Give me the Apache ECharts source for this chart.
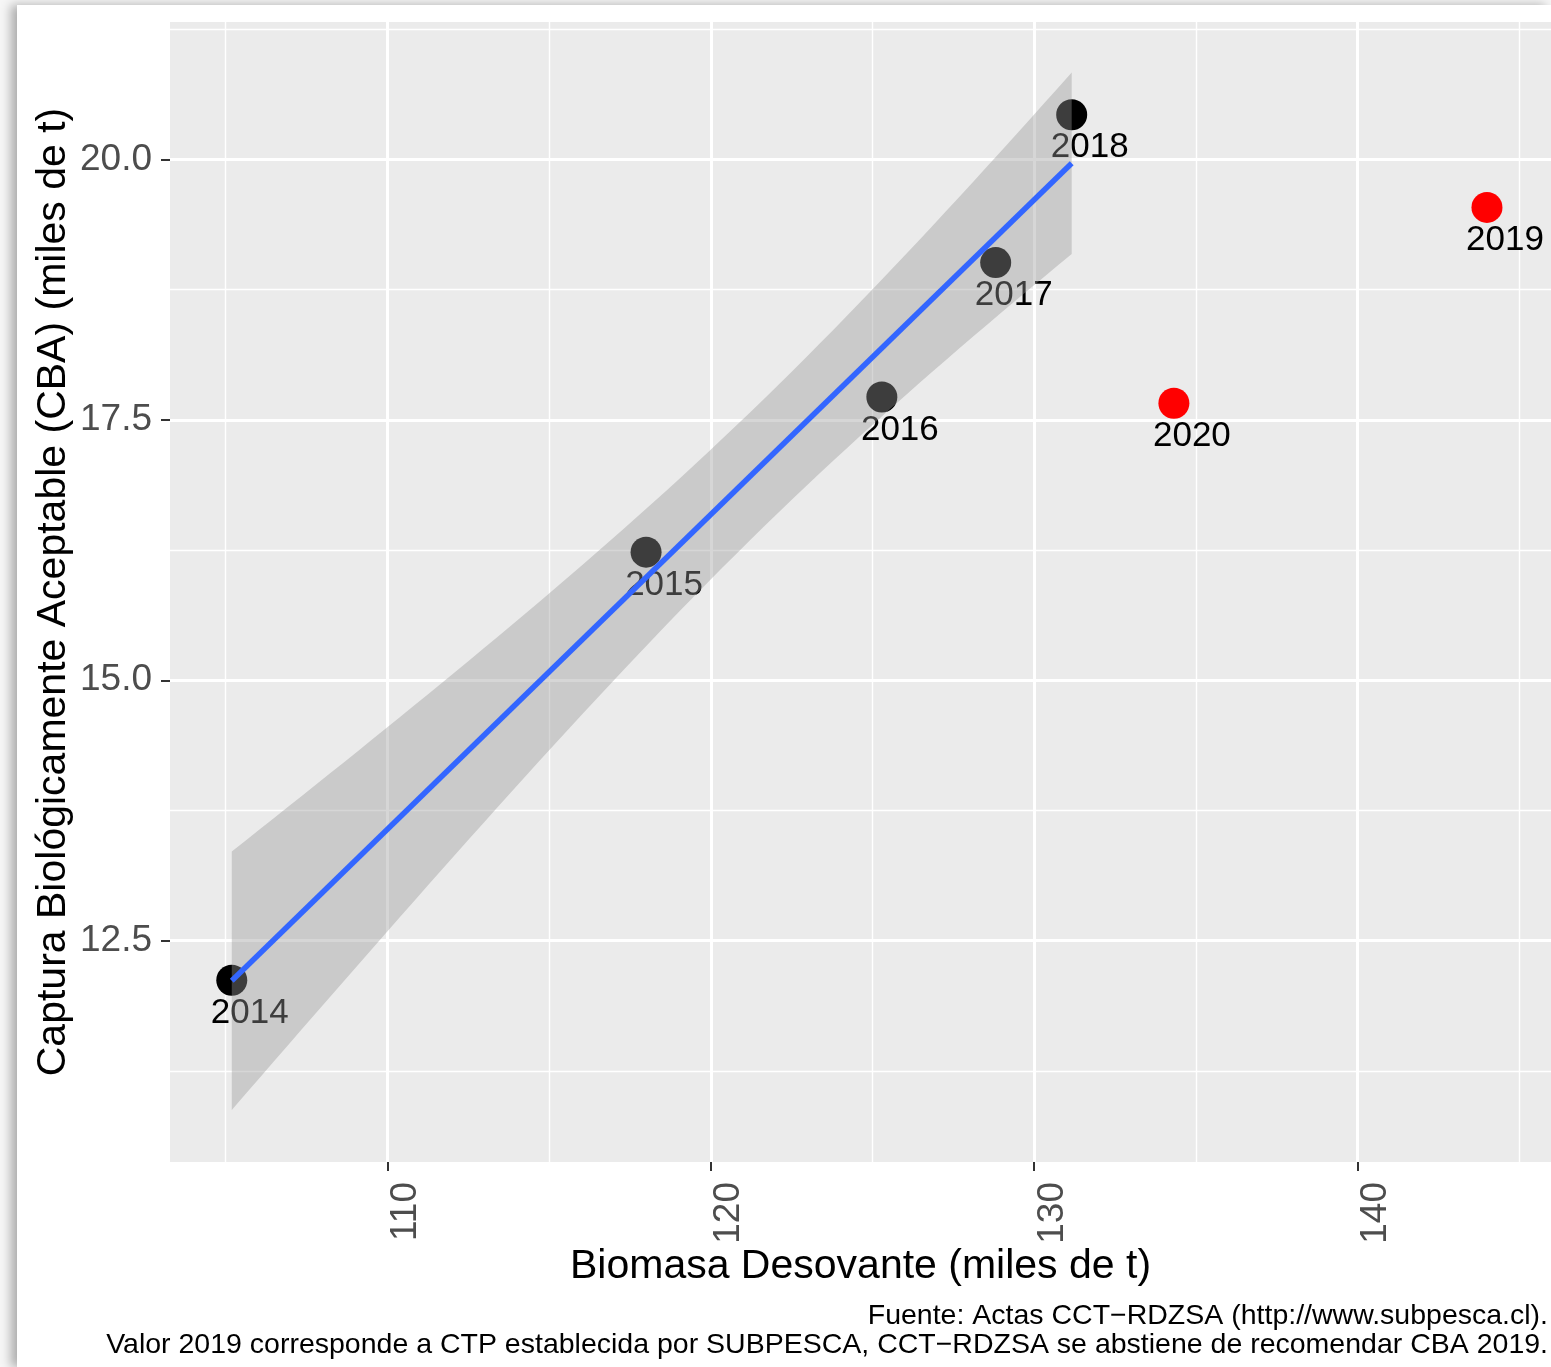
<!DOCTYPE html>
<html>
<head>
<meta charset="utf-8">
<title>CBA vs Biomasa Desovante</title>
<script src="https://cdn.jsdelivr.net/npm/echarts@6.0.0/dist/echarts.min.js"></script>
<style>
  html, body {
    margin: 0;
    padding: 0;
    background: #f6f6f6;
  }
  #frame {
    position: absolute;
    left: 17px;
    top: 5px;
    width: 1534px;
    height: 1362px;
    background: #ffffff;
    box-shadow: -6px 0 10px rgba(0, 0, 0, 0.3);
  }
  #chart {
    position: absolute;
    left: 0;
    top: 0;
    width: 1551px;
    height: 1367px;
  }
</style>
</head>
<body>
<div id="frame"></div>
<div id="chart"></div>
<script>
// datos
const years = ['2014', '2015', '2016', '2017', '2018', '2019', '2020']
const biomasa = [105.19, 118.0, 125.29, 128.81, 131.16, 144.0, 134.32]
const cba = [12.12, 16.23, 17.72, 19.01, 20.43, 19.54, 17.66]
const pointColors = ['#000000', '#000000', '#000000', '#000000', '#000000', '#ff0000', '#ff0000']
// años usados en el ajuste lineal (2014-2018)
const fitCount = 5

const xMajor = [110, 120, 130, 140]
const xMinor = [105, 115, 125, 135, 145]
const yMajor = [12.5, 15.0, 17.5, 20.0]
const yMinor = [11.25, 13.75, 16.25, 18.75, 21.25]

const xRange = [103.28, 145.98]
const yRange = [10.375, 21.32]

// ajuste lineal con banda de confianza 95% (como geom_smooth(method = 'lm'))
function linearFit(xs, ys) {
  const n = xs.length
  const mx = xs.reduce((a, b) => a + b, 0) / n
  const my = ys.reduce((a, b) => a + b, 0) / n
  let sxx = 0
  let sxy = 0
  for (let i = 0; i < n; i++) {
    sxx += (xs[i] - mx) * (xs[i] - mx)
    sxy += (xs[i] - mx) * (ys[i] - my)
  }
  const slope = sxy / sxx
  const icpt = my - slope * mx
  let sse = 0
  for (let i = 0; i < n; i++) {
    const r = ys[i] - (icpt + slope * xs[i])
    sse += r * r
  }
  const s = Math.sqrt(sse / (n - 2))
  const tcrit = 3.182 // t(0.975, gl = 3)
  return {
    at(x) {
      return icpt + slope * x
    },
    half(x) {
      return tcrit * s * Math.sqrt(1 / n + (x - mx) * (x - mx) / sxx)
    }
  }
}

const fitX = biomasa.slice(0, fitCount)
const fitY = cba.slice(0, fitCount)
const fit = linearFit(fitX, fitY)
const fitMin = Math.min(...fitX)
const fitMax = Math.max(...fitX)

const bandSteps = 60
const bandUpper = []
const bandLower = []
for (let i = 0; i <= bandSteps; i++) {
  const x = fitMin + (fitMax - fitMin) * i / bandSteps
  bandUpper.push([x, fit.at(x) + fit.half(x)])
  bandLower.push([x, fit.at(x) - fit.half(x)])
}

const font = 'Liberation Sans, Helvetica, Arial, sans-serif'

const chart = echarts.init(document.getElementById('chart'))

const scatterData = years.map((y, i) => ({
  value: [biomasa[i], cba[i]],
  name: y,
  itemStyle: { color: pointColors[i], opacity: 1 }
}))

chart.setOption({
  backgroundColor: 'transparent',
  animation: false,
  textStyle: { fontFamily: font },
  grid: {
    left: 170,
    top: 22,
    right: 0,
    bottom: 205,
    show: true,
    backgroundColor: '#ebebeb',
    borderWidth: 0
  },
  xAxis: [
    {
      type: 'value',
      min: xRange[0],
      max: xRange[1],
      name: 'Biomasa Desovante (miles de t)',
      nameLocation: 'middle',
      nameGap: 84,
      nameMoveOverlap: false,
      nameTextStyle: { color: '#000000', fontSize: 41, fontFamily: font },
      axisLine: { show: false },
      axisTick: {
        show: true,
        length: 9,
        customValues: xMajor,
        lineStyle: { color: '#333333', width: 2 }
      },
      axisLabel: {
        customValues: xMajor,
        rotate: 90,
        margin: 20,
        verticalAlign: 'top',
        color: '#4d4d4d',
        fontSize: 37,
        fontFamily: font
      },
      splitLine: { show: true, lineStyle: { color: '#ffffff', width: 3 } },
      z: 2
    },
    {
      type: 'value',
      min: xRange[0],
      max: xRange[1],
      axisLine: { show: false },
      axisTick: { show: false, customValues: xMinor },
      axisLabel: { show: false, customValues: xMinor },
      splitLine: { show: true, lineStyle: { color: '#ffffff', width: 1.4 } },
      z: 1
    }
  ],
  yAxis: [
    {
      type: 'value',
      min: yRange[0],
      max: yRange[1],
      name: 'Captura Biológicamente Aceptable (CBA) (miles de t)',
      nameLocation: 'middle',
      nameGap: 96,
      nameMoveOverlap: false,
      nameTextStyle: { color: '#000000', fontSize: 41, fontFamily: font },
      axisLine: { show: false },
      axisTick: {
        show: true,
        length: 9,
        customValues: yMajor,
        lineStyle: { color: '#333333', width: 2 }
      },
      axisLabel: {
        customValues: yMajor,
        margin: 18,
        color: '#4d4d4d',
        fontSize: 37,
        fontFamily: font,
        formatter: v => v.toFixed(1)
      },
      splitLine: { show: true, lineStyle: { color: '#ffffff', width: 3 } },
      z: 2
    },
    {
      type: 'value',
      min: yRange[0],
      max: yRange[1],
      axisLine: { show: false },
      axisTick: { show: false, customValues: yMinor },
      axisLabel: { show: false, customValues: yMinor },
      splitLine: { show: true, lineStyle: { color: '#ffffff', width: 1.4 } },
      z: 1
    }
  ],
  series: [
    {
      name: 'puntos',
      type: 'scatter',
      symbolSize: 31,
      data: scatterData,
      z: 3,
      itemStyle: { opacity: 1 },
      label: {
        show: true,
        position: 'inside',
        offset: [18, 33],
        formatter: p => p.name,
        color: '#000000',
        fontSize: 35,
        fontFamily: font
      },
      emphasis: { disabled: true }
    },
    {
      name: 'banda',
      type: 'custom',
      z: 4,
      silent: true,
      data: [[fitMin, fit.at(fitMin)]],
      renderItem(params, api) {
        const pts = bandUpper.map(p => api.coord(p))
          .concat(bandLower.slice().reverse().map(p => api.coord(p)))
        return {
          type: 'polygon',
          shape: { points: pts },
          style: { fill: 'rgba(153, 153, 153, 0.4)', stroke: 'none' }
        }
      }
    },
    {
      name: 'ajuste',
      type: 'line',
      z: 5,
      silent: true,
      symbol: 'none',
      data: [[fitMin, fit.at(fitMin)], [fitMax, fit.at(fitMax)]],
      lineStyle: { color: '#3366ff', width: 5.5 }
    }
  ],
  graphic: [
    {
      type: 'text',
      right: 3,
      top: 1302,
      style: {
        text: 'Fuente: Actas CCT−RDZSA (http://www.subpesca.cl).',
        fill: '#000000',
        font: '28.5px ' + font,
        textAlign: 'right'
      }
    },
    {
      type: 'text',
      right: 3,
      top: 1331,
      style: {
        text: 'Valor 2019 corresponde a CTP establecida por SUBPESCA, CCT−RDZSA se abstiene de recomendar CBA 2019.',
        fill: '#000000',
        font: '28.5px ' + font,
        textAlign: 'right'
      }
    }
  ]
})
</script>
</body>
</html>
